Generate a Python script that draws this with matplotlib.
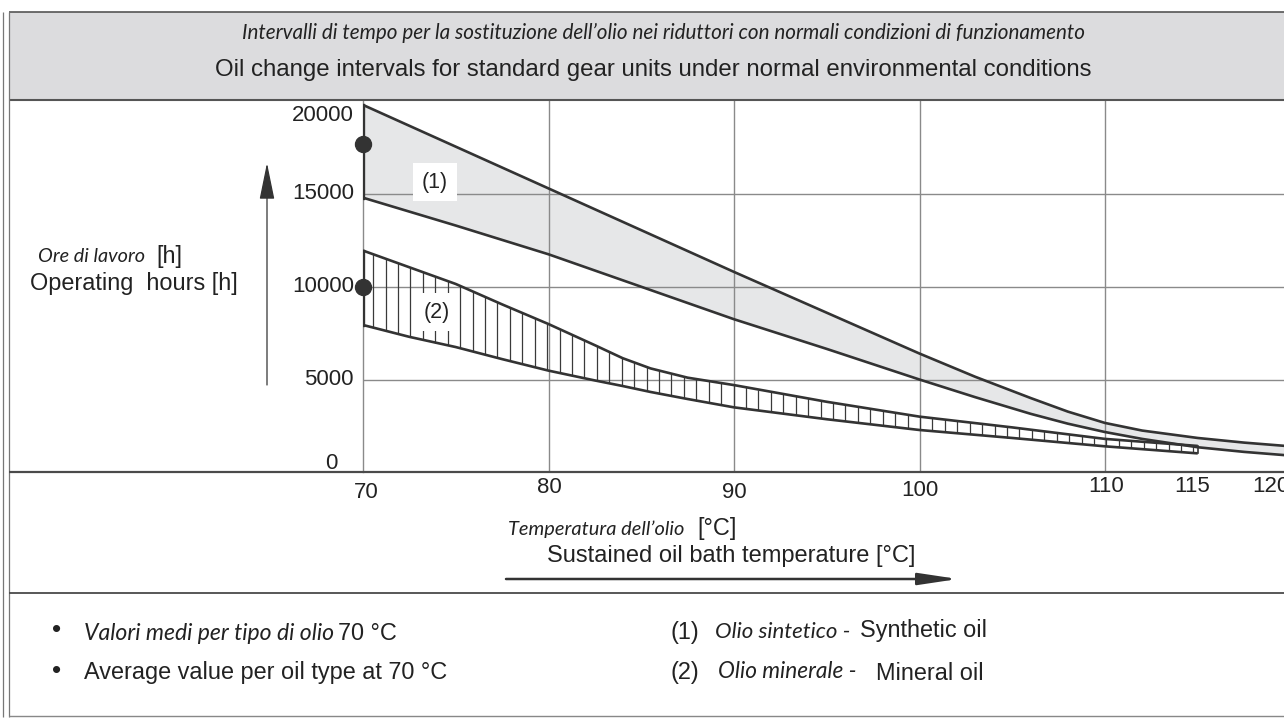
import matplotlib
matplotlib.use("Agg")
import matplotlib.pyplot as plt
import numpy as np
from matplotlib.lines import Line2D
from matplotlib.patches import Rectangle, FancyArrowPatch, ArrowStyle

# ---------------- data ----------------
temps_syn = [70, 75, 80, 85, 90, 95, 100, 103, 106, 108, 110, 112, 115, 117.5, 120]
syn_upper = [19800, 17550, 15300, 13050, 10800, 8600, 6400, 5150, 4000, 3270, 2660, 2250, 1850, 1600, 1400]
syn_lower = [14800, 13300, 11750, 10000, 8250, 6650, 5000, 4050, 3150, 2620, 2170, 1800, 1350, 1100, 900]

temps_min = [70, 72.5, 75, 77.5, 80, 82.5, 84, 85.5, 87.5, 90, 95, 100, 105, 110, 115]
min_upper = [11950, 11050, 10150, 9050, 7990, 6850, 6150, 5600, 5100, 4700, 3800, 3000, 2420, 1800, 1420]
min_lower = [7940, 7300, 6750, 6100, 5480, 4950, 4650, 4330, 3950, 3500, 2860, 2280, 1850, 1400, 1020]

avg_temp = [70, 70]
avg_hours = [17700, 10000]

x_ticks = [70, 80, 90, 100, 110, 115, 120]
x_tick_labels = ["70", "80", "90", "100", "110", "115", "120"]
y_ticks = [0, 5000, 10000, 15000, 20000]
y_tick_labels = ["0", "5000", "10000", "15000", "20000"]

title_it = "Intervalli di tempo per la sostituzione dell\u2019olio nei riduttori con normali condizioni di funzionamento"
title_en = "Oil change intervals for standard gear units under normal environmental conditions"

# ---------------- layout helpers ----------------
W, H = 1284, 718
fig = plt.figure(figsize=(W / 100, H / 100), dpi=100)
renderer = fig.canvas.get_renderer()

def fx(x):
    return x / W

def fy(y):
    return 1 - y / H

EN = "Liberation Sans"
IT = "Lato"
DARK = "#333333"
GRID = "#8a8a8a"
TXT = "#222222"

def ftext(x, y, s, target_w=None, size=14, ha="left", va="center", family=EN, style="normal", color=TXT, **kw):
    t = fig.text(fx(x), fy(y), s, ha=ha, va=va, fontsize=size, family=family,
                 style=style, color=color, **kw)
    if target_w is not None:
        bb = t.get_window_extent(renderer)
        t.set_fontsize(size * target_w / bb.width)
    return t

def fline(x0, y0, x1, y1, color="#555555", lw=1.0, z=5):
    fig.add_artist(Line2D([fx(x0), fx(x1)], [fy(y0), fy(y1)], transform=fig.transFigure,
                          color=color, lw=lw, zorder=z, solid_capstyle="butt"))

# ---------------- frame / title box ----------------
fig.add_artist(Rectangle((fx(9), fy(100)), fx(1284) - fx(9), fy(12) - fy(100),
                         transform=fig.transFigure, facecolor="#dcdcde", edgecolor="none", zorder=0))
fline(9, 12, 1284, 12, color="#555555", lw=1.2)
fline(9, 100, 1284, 100, color="#555555", lw=1.5)
fline(3, 12, 3, 717, color="#777777", lw=0.9)
fline(9, 12, 9, 717, color="#777777", lw=0.9)
fline(9, 472.3, 1284, 472.3, color="#4a4a4a", lw=1.6)
fline(9, 593, 1284, 593, color="#4a4a4a", lw=1.3)
fline(9, 716, 1284, 716, color="#888888", lw=1.0)

ftext(663, 33, title_it, target_w=840, size=13, ha="center", family=IT, style="italic")
ftext(653, 70, title_en, target_w=880, size=15, ha="center")

# ---------------- axes ----------------
ax = fig.add_axes([fx(363), fy(472.3), fx(1284) - fx(363), fy(100) - fy(472.3)])
x_px_per_deg = 18.55
y_px_per_h = 92.77 / 5000
ax.set_xlim(70, 70 + (1284 - 363) / x_px_per_deg)
ax.set_ylim(0, (472.3 - 100) / y_px_per_h)
ax.patch.set_alpha(0)
for s in ["top", "right", "bottom"]:
    ax.spines[s].set_visible(False)
ax.spines["left"].set_color(GRID)
ax.spines["left"].set_linewidth(1.0)
ax.set_xticks([t for t in x_ticks if 70 < t <= 110])
ax.set_yticks([t for t in y_ticks if 0 < t < 20000])
ax.tick_params(length=0, labelbottom=False, labelleft=False)
ax.grid(True, color=GRID, lw=1.0, zorder=2)
ax.set_axisbelow(False)

# band (1) synthetic oil
ax.fill_between(temps_syn, syn_lower, syn_upper, color="#e6e7e8", lw=0, zorder=1)
ax.plot(temps_syn, syn_upper, color=DARK, lw=1.9, zorder=4, solid_capstyle="butt")
ax.plot(temps_syn, syn_lower, color=DARK, lw=1.9, zorder=4, solid_capstyle="butt")
ax.plot([temps_syn[0], temps_syn[0]], [syn_lower[0], syn_upper[0]], color=DARK, lw=2.4, zorder=4)

# band (2) mineral oil, vertical hatching
hx = np.arange(70.55, 115.0, 0.67)
ax.vlines(hx, np.interp(hx, temps_min, min_lower), np.interp(hx, temps_min, min_upper),
          color="#3a3a3a", lw=0.9, zorder=3)
ax.plot(temps_min, min_upper, color=DARK, lw=1.9, zorder=4, solid_capstyle="butt")
ax.plot(temps_min, min_lower, color=DARK, lw=1.9, zorder=4, solid_capstyle="butt")
ax.plot([temps_min[0], temps_min[0]], [min_lower[0], min_upper[0]], color=DARK, lw=2.4, zorder=4)
ax.plot([temps_min[-1], temps_min[-1]], [min_lower[-1], min_upper[-1]], color=DARK, lw=1.2, zorder=4)

# average points
ax.plot(avg_temp, avg_hours, "o", ms=11.5, color=DARK, zorder=6, clip_on=False)

# band labels
ax.text(73.88, 15646, "(1)", ha="center", va="center", fontsize=15.5, family=EN, color=TXT,
        zorder=5, bbox=dict(boxstyle="square,pad=0.4", fc="white", ec="none"))
ax.text(73.99, 8634, "(2)", ha="center", va="center", fontsize=15.5, family=EN, color=TXT,
        zorder=3.5, bbox=dict(boxstyle="square,pad=0.4", fc="white", ec="none"))

# tick labels
y_label_off = {0: (-26, 9), 20000: (-9, -14)}
for v, lab in zip(y_ticks, y_tick_labels):
    dx, dy = y_label_off.get(v, (-9, 0))
    ax.annotate(lab, xy=(70, v), xycoords="data", xytext=(dx, dy), textcoords="offset pixels",
                ha="right", va="center", fontsize=16, family=EN, color=TXT,
                annotation_clip=False)

x_label_off = {70: (3, -20), 80: (1, -15), 90: (0, -20), 100: (0, -18), 110: (1, -14), 115: (-6, -14), 120: (-20, -14)}
for v, lab in zip(x_ticks, x_tick_labels):
    dx, dy = x_label_off.get(v, (0, -18))
    ax.annotate(lab, xy=(v, 0), xycoords="data", xytext=(dx, dy), textcoords="offset pixels",
                ha="center", va="center", fontsize=16, family=EN, color=TXT,
                annotation_clip=False)

# ---------------- axis titles & arrows ----------------
en_size = ftext(30, 283, "Operating  hours [h]", target_w=208, size=15).get_fontsize()
ftext(38, 257, "Ore di lavoro", target_w=107, size=13, family=IT, style="italic")
ftext(156, 257, "[h]", size=en_size)

ftext(508, 529, "Temperatura dell\u2019olio", target_w=176, size=13, family=IT, style="italic")
ftext(697, 529, "[\u00b0C]", size=en_size)
ftext(547, 556, "Sustained oil bath temperature [\u00b0C]", target_w=370, size=15)

fig.add_artist(FancyArrowPatch((fx(267), fy(385)), (fx(267), fy(163)), transform=fig.transFigure,
                               arrowstyle=ArrowStyle("-|>", head_length=23, head_width=4.7),
                               mutation_scale=1, color="#333333", lw=0.9, shrinkA=0, shrinkB=0))
fig.add_artist(FancyArrowPatch((fx(506), fy(579)), (fx(958), fy(579)), transform=fig.transFigure,
                               arrowstyle=ArrowStyle("-|>", head_length=24, head_width=3.6),
                               mutation_scale=1, color="#333333", lw=1.8, shrinkA=0, shrinkB=0))

# ---------------- notes ----------------
note_size = ftext(84, 672, "Average value per oil type at 70 \u00b0C", target_w=365, size=14).get_fontsize()
ftext(57, 637, "\u2022", size=19, ha="center", va="baseline")
ftext(84, 633, "Valori medi per tipo di olio", target_w=250, size=13, family=IT, style="italic")
ftext(338, 633, "70 \u00b0C", size=note_size)
ftext(57, 678, "\u2022", size=19, ha="center", va="baseline")

ftext(670, 633, "(1)", size=note_size)
ftext(715, 632, "Olio sintetico -", target_w=135, size=13, family=IT, style="italic")
ftext(860, 631, "Synthetic oil", size=note_size)
ftext(670, 673, "(2)", size=note_size)
ftext(718, 672, "Olio minerale -", target_w=138, size=13, family=IT, style="italic")
ftext(876, 673, "Mineral oil", size=note_size)

fig.savefig("out.png", dpi=100)
